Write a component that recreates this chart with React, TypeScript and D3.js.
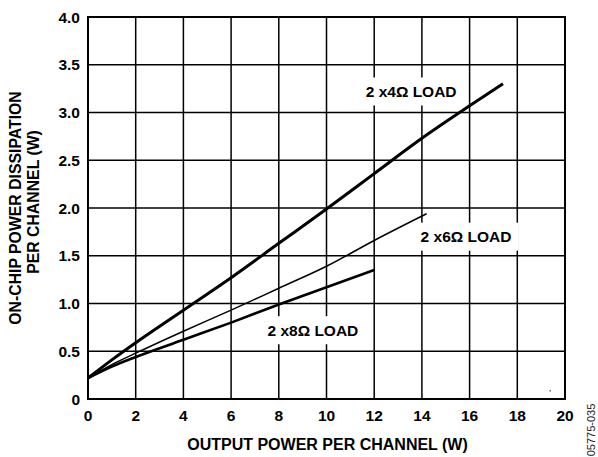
import React from "react";
import * as d3 from "d3";

const xTicks = [0, 2, 4, 6, 8, 10, 12, 14, 16, 18, 20];
const yTicks = [0, 0.5, 1.0, 1.5, 2.0, 2.5, 3.0, 3.5, 4.0];
const yTickLabels = ["0", "0.5", "1.0", "1.5", "2.0", "2.5", "3.0", "3.5", "4.0"];

const load4X = [0, 1, 2, 4, 6, 8, 10, 12, 14, 16, 17.4];
const load4Y = [0.22, 0.41, 0.59, 0.93, 1.27, 1.63, 1.99, 2.36, 2.73, 3.07, 3.3];
const load6X = [0, 1, 2, 4, 6, 8, 10, 12, 14.2];
const load6Y = [0.22, 0.36, 0.48, 0.71, 0.93, 1.16, 1.39, 1.66, 1.94];
const load8X = [0, 1, 2, 4, 6, 8, 10, 12];
const load8Y = [0.22, 0.34, 0.44, 0.62, 0.8, 0.99, 1.17, 1.35];

const seriesLabels = ["2 x4Ω LOAD", "2 x6Ω LOAD", "2 x8Ω LOAD"];
const labelX = [13.55, 15.85, 9.43];
const labelY = [3.22, 1.7, 0.72];

const W = 598, H = 457;
const M = { left: 88, right: 33, top: 17, bottom: 58 };
const FONT = "Arial, 'Liberation Sans', Helvetica, sans-serif";

export default function App() {
  const x = d3.scaleLinear().domain([0, 20]).range([M.left, W - M.right]);
  const y = d3.scaleLinear().domain([0, 4]).range([H - M.bottom, M.top]);
  const line = d3
    .line<[number, number]>()
    .x((d) => x(d[0]))
    .y((d) => y(d[1]))
    .curve(d3.curveMonotoneX);
  const series = [
    { xs: load4X, ys: load4Y, w: 3 },
    { xs: load6X, ys: load6Y, w: 1.5 },
    { xs: load8X, ys: load8Y, w: 2.6 },
  ];
  const fs = 15.5;
  return (
    <svg
      width={W}
      height={H}
      style={{ position: "absolute", left: 0, top: 0, background: "#fff" }}
      fontFamily={FONT}
    >
      {xTicks.map((t) => (
        <line key={"gx" + t} x1={x(t)} x2={x(t)} y1={y(0)} y2={y(4)} stroke="#000" strokeWidth={1.5} />
      ))}
      {yTicks.map((t) => (
        <line key={"gy" + t} x1={x(0)} x2={x(20)} y1={y(t)} y2={y(t)} stroke="#000" strokeWidth={1.5} />
      ))}
      <rect x={x(0)} y={y(4)} width={x(20) - x(0)} height={y(0) - y(4)} fill="none" stroke="#000" strokeWidth={2} />
      {seriesLabels.map((s, i) => {
        const w = 104;
        return (
          <rect key={"b" + s} x={x(labelX[i]) - w / 2} y={y(labelY[i]) - 14} width={w} height={28} fill="#fff" />
        );
      })}
      {series.map((s, i) => (
        <path
          key={i}
          d={line(s.xs.map((v, j) => [v, s.ys[j]] as [number, number])) || ""}
          fill="none"
          stroke="#000"
          strokeWidth={s.w}
        />
      ))}
      {seriesLabels.map((s, i) => (
        <text
          key={"t" + s}
          x={x(labelX[i])}
          y={y(labelY[i])}
          textAnchor="middle"
          dominantBaseline="central"
          fontSize={fs}
          fontWeight="bold"
        >
          {s}
        </text>
      ))}
      {xTicks.map((t) => (
        <text key={"tx" + t} x={x(t)} y={421} textAnchor="middle" fontSize={fs} fontWeight="bold">
          {t}
        </text>
      ))}
      {yTicks.map((t, i) => (
        <text
          key={"ty" + t}
          x={80}
          y={y(t)}
          textAnchor="end"
          dominantBaseline="central"
          fontSize={fs}
          fontWeight="bold"
        >
          {yTickLabels[i]}
        </text>
      ))}
      <text x={(x(0) + x(20)) / 2 + 1} y={450} textAnchor="middle" fontSize={16} fontWeight="bold">
        OUTPUT POWER PER CHANNEL (W)
      </text>
      <text
        transform="translate(21,208) rotate(-90)"
        textAnchor="middle"
        fontSize={15.8}
        fontWeight="bold"
      >
        ON-CHIP POWER DISSIPATION
      </text>
      <text
        transform="translate(39,202) rotate(-90)"
        textAnchor="middle"
        fontSize={15.8}
        fontWeight="bold"
      >
        PER CHANNEL (W)
      </text>
      <text transform="translate(595,430) rotate(-90)" textAnchor="middle" fontSize={11} fill="#222">
        05775-035
      </text>
      <rect x={549.5} y={390} width={1.5} height={1.5} fill="#666" />
    </svg>
  );
}
